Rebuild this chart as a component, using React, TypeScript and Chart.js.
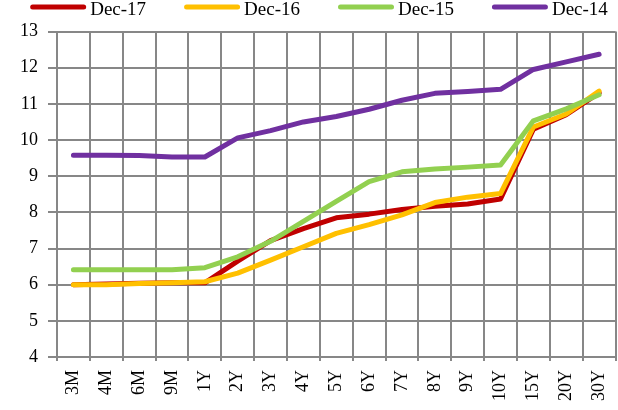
import React, { useEffect, useRef } from "react";
import { Chart, registerables } from "chart.js";

Chart.register(...registerables);

const categories = ["3M", "4M", "6M", "9M", "1Y", "2Y", "3Y", "4Y", "5Y", "6Y", "7Y", "8Y", "9Y", "10Y", "15Y", "20Y", "30Y"];
const dec17 = [6.0, 6.02, 6.04, 6.05, 6.05, 6.65, 7.22, 7.55, 7.85, 7.95, 8.08, 8.17, 8.23, 8.37, 10.3, 10.7, 11.3];
const dec16 = [6.0, 6.0, 6.03, 6.05, 6.08, 6.32, 6.68, 7.05, 7.42, 7.66, 7.93, 8.27, 8.42, 8.52, 10.36, 10.72, 11.35];
const dec15 = [6.41, 6.41, 6.41, 6.41, 6.47, 6.77, 7.2, 7.75, 8.3, 8.85, 9.12, 9.2, 9.25, 9.31, 10.53, 10.86, 11.25];
const dec14 = [9.58, 9.58, 9.57, 9.53, 9.53, 10.06, 10.26, 10.5, 10.65, 10.85, 11.1, 11.29, 11.34, 11.4, 11.95, 12.16, 12.37];
const seriesLabels = ["Dec-17", "Dec-16", "Dec-15", "Dec-14"];
const seriesColors = ["#C00000", "#FFC000", "#92D050", "#7030A0"];

const FONT = "'Liberation Serif', 'Times New Roman', serif";
const GRID = "#878787";

const topLegend = {
  id: "topLegend",
  afterDraw(chart: any) {
    const ctx = chart.ctx;
    ctx.save();
    ctx.font = `19px ${FONT}`;
    const lineLen = 56;
    const gapText = 4;
    const gapItem = 38;
    const items = chart.data.datasets.map((d: any) => ({
      text: d.label,
      color: d.borderColor,
      w: lineLen + gapText + ctx.measureText(d.label).width,
    }));
    const total = items.reduce((s: number, it: any) => s + it.w, 0) + gapItem * (items.length - 1);
    let x = 319 - total / 2;
    const y = 7;
    items.forEach((it: any) => {
      ctx.strokeStyle = it.color;
      ctx.lineWidth = 5;
      ctx.lineCap = "round";
      ctx.beginPath();
      ctx.moveTo(x + 2.5, y);
      ctx.lineTo(x + lineLen - 2.5, y);
      ctx.stroke();
      ctx.fillStyle = "#000";
      ctx.textBaseline = "alphabetic";
      ctx.textAlign = "left";
      ctx.fillText(it.text, x + lineLen + gapText, 14.5);
      x += it.w + gapItem;
    });
    ctx.restore();
  },
};

export default function App() {
  const ref = useRef<HTMLCanvasElement | null>(null);
  useEffect(() => {
    if (!ref.current) return;
    const values = [dec17, dec16, dec15, dec14];
    const chart = new Chart(ref.current, {
      type: "line",
      data: {
        labels: categories,
        datasets: values.map((v, i) => ({
          label: seriesLabels[i],
          data: v,
          borderColor: seriesColors[i],
          backgroundColor: seriesColors[i],
          borderWidth: 5,
          pointRadius: 0,
          tension: 0,
          borderCapStyle: "round" as const,
          borderJoinStyle: "round" as const,
          order: 4 - i,
        })),
      },
      options: {
        animation: false,
        responsive: false,
        devicePixelRatio: 1,
        layout: { padding: { top: 31.5, right: 10, left: 0, bottom: 0 } },
        plugins: { legend: { display: false }, tooltip: { enabled: false } },
        scales: {
          x: {
            offset: true,
            grid: { offset: true, color: GRID, lineWidth: 2, tickLength: 4, drawTicks: true },
            border: { color: GRID, width: 2 },
            ticks: {
              autoSkip: false,
              minRotation: 90,
              maxRotation: 90,
              padding: 9,
              color: "#000",
              font: { family: FONT, size: 18 },
            },
            afterFit: (s: any) => {
              s.height = 53;
            },
          },
          y: {
            min: 4,
            max: 13,
            ticks: { stepSize: 1, padding: 10, color: "#000", font: { family: FONT, size: 18 } },
            grid: { color: GRID, lineWidth: 2, tickLength: 9 },
            border: { color: GRID, width: 2 },
            afterFit: (s: any) => {
              s.width = 57;
            },
          },
        },
      },
      plugins: [topLegend],
    });
    return () => chart.destroy();
  }, []);
  return (
    <div style={{ position: "absolute", left: 0, top: 0, width: 618, height: 410, overflow: "hidden", background: "#fff" }}>
      <canvas ref={ref} width={630} height={410} style={{ width: 630, height: 410, display: "block" }} />
    </div>
  );
}
